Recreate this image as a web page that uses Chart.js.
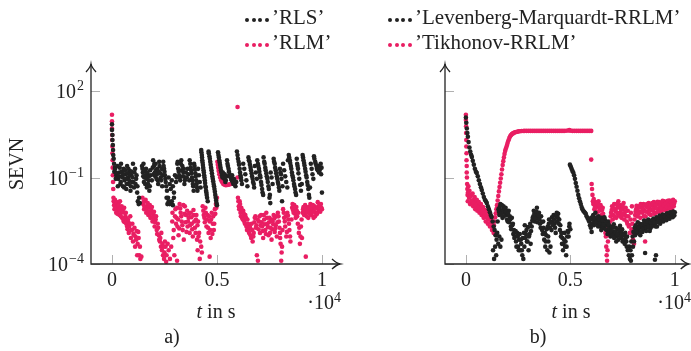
<!DOCTYPE html>
<html>
<head>
<meta charset="utf-8">
<script src="https://cdn.jsdelivr.net/npm/chart.js@4.4.1/dist/chart.umd.min.js"></script>
<style>
body { margin: 0; background: #fff; }
#wrap { position: relative; width: 691px; height: 351px; font-family: 'Liberation Serif', serif; color: #222; }
canvas { position: absolute; top: 0; }
.lbl { position: absolute; font-size: 20px; line-height: 20px; white-space: nowrap; transform: translate(-50%, -50%); }
.lblr { position: absolute; font-size: 20px; line-height: 20px; white-space: nowrap; transform: translate(-100%, -50%); }
.leg { position: absolute; font-size: 21px; line-height: 21px; white-space: nowrap; transform: translateY(-50%); }
.dot { position: absolute; width: 4px; height: 4px; border-radius: 50%; transform: translate(-50%, -50%); }
</style>
</head>
<body>
<div id="wrap">
  <canvas id="chartA" width="345" height="351" style="left:0px"></canvas>
  <canvas id="chartB" width="346" height="351" style="left:345px"></canvas>

  <div class="leg" style="left:272px; top:17px">’RLS’</div>
  <div class="leg" style="left:272px; top:42px">’RLM’</div>
  <div class="leg" style="left:415px; top:17px">’Levenberg-Marquardt-RRLM’</div>
  <div class="leg" style="left:415px; top:42px">’Tikhonov-RRLM’</div>

  <div class="lbl" style="left:216px; top:311px"><i>t</i> in s</div>
  <div class="lblr" style="left:341px; top:300px">·10<sup style="font-size:14px">4</sup></div>
  <div class="lbl" style="left:172px; top:336px">a)</div>
  <div class="lbl" style="left:571px; top:311px"><i>t</i> in s</div>
  <div class="lblr" style="left:691px; top:300px">·10<sup style="font-size:14px">4</sup></div>
  <div class="lbl" style="left:538px; top:336px">b)</div>
</div>
<script>
// tick values
const xTickValues = [0, 5000, 10000];
const yTickValues = [1e-4, 1e-1, 1e2];

// series colours
const black = '#222222';
const pink = 'rgb(233, 30, 99)';

// a) RLS  [t in s, SEVN]
const rlsData = [
  [0,7],[0,4.5],[20,3],[20,2],[40,1.35],[50,0.9],[60,0.6],[80,0.45],[100,0.3],[140,0.22],[170,0.15],
  [150,0.2],[200,0.12],[260,0.25],[300,0.09],[350,0.15],[400,0.06],[430,0.3],[480,0.11],[520,0.05],[560,0.2],
  [600,0.08],[640,0.13],[680,0.04],[720,0.25],[760,0.1],[800,0.06],[840,0.17],[880,0.035],[920,0.12],[960,0.07],
  [1000,0.3],[1050,0.045],[1100,0.2],[1150,0.09],[1200,0.03],[1230,0.015],[1270,0.012],
  [110,0.16],[180,0.09],[230,0.14],[280,0.05],[330,0.11],[370,0.22],[420,0.07],[460,0.16],[500,0.1],[540,0.13],
  [580,0.045],[620,0.18],[660,0.09],[700,0.06],[740,0.14],[780,0.2],[820,0.08],[860,0.12],[900,0.05],[940,0.16],
  [980,0.1],[1020,0.07],[1070,0.15],[1120,0.06],[1170,0.12],[1210,0.05],[1290,0.02],[1320,0.013],
  [1430,0.25],[1470,0.15],[1500,0.3],[1540,0.1],[1580,0.06],[1620,0.2],[1660,0.045],[1700,0.13],[1740,0.08],[1780,0.035],[1820,0.18],
  [1450,0.2],[1490,0.11],[1520,0.07],[1560,0.17],[1600,0.12],[1640,0.09],[1680,0.15],[1720,0.06],[1760,0.11],[1800,0.05],
  [1850,0.12],[1900,0.08],[1940,0.22],[1980,0.13],[2020,0.3],[2060,0.11],[2100,0.18],[2140,0.13],[2180,0.08],[2230,0.16],
  [2270,0.25],[2320,0.1],[2370,0.2],[2420,0.12],
  [1960,0.4],[2000,0.25],[2040,0.15],[2080,0.3],[2120,0.09],[2160,0.2],[2200,0.06],[2250,0.35],[2300,0.14],[2340,0.08],[2390,0.05],
  [2440,0.35],[2480,0.2],[2520,0.12],[2560,0.07],[2600,0.02],[2640,0.012],[2700,0.015],[2800,0.013],[2900,0.011],
  [2460,0.25],[2500,0.16],[2540,0.09],[2580,0.05],[2620,0.035],[2670,0.02],[2750,0.012],[2850,0.015],[2950,0.02],
  [2700,0.1],[2750,0.06],[2800,0.04],[2850,0.08],[2900,0.05],[2950,0.03],[3000,0.12],[3050,0.07],[3080,0.1],
  [3110,0.3],[3150,0.2],[3200,0.12],[3250,0.08],[3300,0.4],[3350,0.25],[3400,0.15],[3450,0.06],[3490,0.1],
  [3130,0.35],[3180,0.16],[3230,0.1],[3280,0.3],[3320,0.18],[3380,0.11],[3420,0.2],[3470,0.08],[3520,0.15],[3560,0.1],
  [3600,0.2],[3640,0.13],[3680,0.08],[3700,0.4],[3750,0.22],[3790,0.14],[3830,0.08],[3870,0.05],[3910,0.3],[3950,0.19],
  [3990,0.11],[4030,0.06],[4070,0.035],[4100,0.2],[4140,0.12],[4180,0.07],[4220,0.045],
  [3730,0.3],[3770,0.18],[3810,0.1],[3850,0.06],[3890,0.035],[3930,0.25],[3970,0.14],[4010,0.08],[4050,0.045],
  [4250,0.9],[4280,0.6],[4300,0.4],[4330,0.27],[4360,0.18],[4390,0.12],[4420,0.08],[4450,0.05],[4480,0.035],[4510,0.025],
  [4260,0.75],[4290,0.5],[4315,0.33],[4345,0.22],[4375,0.15],[4405,0.1],[4435,0.065],[4465,0.045],[4495,0.03],[4530,0.02],[4560,0.015],
  [4600,0.8],[4640,0.55],[4680,0.35],[4720,0.22],[4760,0.14],[4800,0.09],[4840,0.06],[4880,0.04],[4920,0.025],[4960,0.016],[5000,0.011],
  [4610,0.7],[4660,0.45],[4700,0.28],[4740,0.18],[4780,0.11],[4820,0.075],[4860,0.05],[4900,0.032],[4940,0.02],[4980,0.013],
  [5050,0.75],[5090,0.5],[5130,0.33],[5170,0.22],[5210,0.15],[5260,0.1],[5300,0.12],[5350,0.09],[5400,0.07],
  [5070,0.6],[5110,0.4],[5150,0.27],[5190,0.18],[5240,0.12],[5280,0.15],[5320,0.1],[5370,0.13],[5420,0.08],[5450,0.11],
  [5480,0.4],[5520,0.25],[5570,0.16],[5620,0.11],[5680,0.09],[5720,0.12],[5780,0.06],[5830,0.08],[5880,0.05],[5920,0.07],
  [5500,0.3],[5550,0.2],[5600,0.13],[5650,0.1],[5700,0.08],[5750,0.07],[5800,0.09],[5850,0.06],
  [5950,0.8],[5980,0.6],[6000,0.45],[6030,0.35],[6050,0.28],[6080,0.2],[6100,0.15],[6120,0.12],[6140,0.1],[6160,0.08],[6190,0.06],
  [6250,0.3],[6300,0.2],[6350,0.13],[6400,0.08],[6450,0.05],
  [6500,0.5],[6550,0.35],[6600,0.22],[6650,0.14],[6700,0.09],[6750,0.06],
  [6520,0.4],[6570,0.28],[6620,0.18],[6670,0.11],[6720,0.07],[6770,0.045],[6800,0.25],[6850,0.15],[6900,0.09],
  [6920,0.4],[6970,0.25],[7020,0.16],[7070,0.1],[7120,0.055],[7170,0.03],
  [6950,0.3],[7000,0.2],[7050,0.12],[7100,0.07],[7150,0.04],[7200,0.025],
  [7250,0.35],[7300,0.22],[7350,0.14],[7400,0.09],[7450,0.05],[7500,0.02],[7540,0.013],
  [7220,0.5],[7270,0.3],[7320,0.18],[7370,0.11],[7420,0.07],[7470,0.04],[7520,0.025],[7560,0.15],[7600,0.1],[7650,0.06],
  [7700,0.45],[7750,0.3],[7800,0.18],[7850,0.11],[7900,0.07],[7950,0.045],[8000,0.2],[8050,0.13],[8100,0.015],
  [7720,0.35],[7770,0.22],[7820,0.14],[7870,0.09],[7920,0.06],[7970,0.035],[8020,0.15],[8070,0.09],[8120,0.05],
  [8150,0.3],[8200,0.18],[8250,0.11],[8300,0.07],[8350,0.045],[8380,0.4],
  [8420,0.6],[8470,0.4],[8520,0.25],[8570,0.15],[8620,0.1],[8670,0.06],[8720,0.04],[8770,0.025],[8820,0.3],[8860,0.2],
  [8440,0.5],[8490,0.32],[8540,0.2],[8590,0.12],[8640,0.08],[8690,0.05],[8740,0.03],[8800,0.45],[8840,0.25],[8880,0.14],
  [8920,0.09],[8960,0.055],[9000,0.035],[9040,0.06],
  [9100,0.5],[9150,0.32],[9200,0.2],[9250,0.12],[9300,0.07],[9350,0.04],[9380,0.025],
  [9080,0.6],[9120,0.4],[9170,0.26],[9220,0.16],[9270,0.1],[9320,0.055],[9400,0.02],[9430,0.045],[9470,0.3],[9510,0.2],
  [9550,0.13],[9590,0.09],[9640,0.45],[9700,0.3],[9760,0.2],[9820,0.25],[9880,0.17],[9940,0.3],[9980,0.22],
  [9620,0.55],[9680,0.35],[9740,0.25],[9800,0.18],[9860,0.15],[9920,0.2],[9960,0.13],[10000,0.03]
];

// a) RLM
const rlmData = [
  [0,15],[0,9],[0,5],[10,3],[10,2],[20,1.2],[20,0.7],[30,0.4],[30,0.22],[40,0.12],[50,0.07],[60,0.04],
  [80,0.015],[120,0.008],[160,0.012],[200,0.006],[240,0.01],[280,0.007],[320,0.013],[360,0.005],[400,0.009],[440,0.006],
  [480,0.004],[520,0.008],[560,0.003],[600,0.006],[640,0.0045],[680,0.0025],
  [70,0.02],[100,0.011],[140,0.017],[180,0.009],[220,0.014],[260,0.0055],[300,0.011],[340,0.008],[380,0.015],[420,0.0045],
  [460,0.01],[500,0.0065],[540,0.0035],[580,0.009],[620,0.0028],[660,0.006],[700,0.0038],[740,0.0016],[780,0.0028],
  [820,0.002],[870,0.0045],[920,0.0015],[970,0.0025],[1020,0.0011],[1070,0.0018],[1120,0.0009],[1170,0.0014],[1220,0.0005],
  [1270,0.0008],[1330,0.0004],
  [720,0.002],[760,0.0035],[800,0.0012],[850,0.0025],[900,0.0008],[950,0.0015],[1000,0.0006],[1050,0.001],[1100,0.0004],
  [1150,0.0007],[1200,0.0002],[1250,0.0013],[1300,0.0002],[1350,0.00015],[1400,0.00018],
  [1480,0.012],[1530,0.008],[1580,0.015],[1630,0.006],[1680,0.01],[1730,0.005],[1780,0.009],[1830,0.004],[1880,0.007],
  [1930,0.003],[1980,0.005],[2030,0.002],[2080,0.0035],[2130,0.0015],[2180,0.0025],[2230,0.001],[2280,0.0006],[2330,0.0004],
  [2380,0.0003],[2430,0.0002],[2480,0.00015],[2550,0.0004],[2600,0.0002],[2300,0.0008],[2400,0.0005],[2500,0.00025],
  [1450,0.02],[1500,0.014],[1550,0.01],[1600,0.017],[1650,0.0075],[1700,0.013],[1750,0.0065],[1800,0.011],[1850,0.0055],
  [1900,0.0095],[1950,0.004],[2000,0.0065],[2050,0.0028],[2100,0.0045],[2150,0.0011],[2200,0.0018],[2250,0.0007],
  [2350,0.0012],[2450,0.0004],[2520,0.0006],[2580,0.00012],[2650,0.0005],
  [2700,0.0003],[2760,0.00015],[2820,0.0004],[3100,0.00013],
  [2870,0.003],[2920,0.0008],[2970,0.0002],[3020,0.008],[3070,0.004],[3120,0.002],[3170,0.001],[3220,0.012],[3270,0.006],
  [3320,0.003],[3370,0.0015],[3420,0.0007],[3470,0.01],[3520,0.005],
  [2880,0.006],[2940,0.0015],[3000,0.0045],[3050,0.0025],[3100,0.009],[3150,0.0035],[3200,0.0017],[3250,0.0085],
  [3300,0.0045],[3350,0.0022],[3400,0.011],[3450,0.0055],[3500,0.0028],[3550,0.0013],[3580,0.007],
  [3600,0.002],[3650,0.004],[3700,0.0012],[3750,0.006],[3800,0.0025],[3850,0.0009],[3900,0.005],[3950,0.0018],[4000,0.0035],
  [4050,0.0007],[4100,0.003],[4150,0.0012],[4080,0.0003],[4180,0.00015],[4280,0.00025],
  [3620,0.003],[3680,0.0055],[3720,0.0022],[3780,0.0042],[3820,0.0016],[3880,0.0075],[3920,0.003],[3980,0.0012],[4020,0.005],
  [4070,0.0022],[4120,0.0009],[4200,0.0006],[4250,0.0004],
  [4350,0.007],[4400,0.004],[4450,0.009],[4500,0.002],[4550,0.005],[4600,0.0012],[4650,0.003],[4700,0.0008],[4750,0.006],
  [4800,0.0025],[4850,0.0015],[4900,0.008],[4950,0.012],[5000,0.02],[4650,0.00018],
  [4320,0.01],[4370,0.005],[4420,0.0028],[4470,0.006],[4520,0.0035],[4570,0.0018],[4620,0.0045],[4680,0.0015],[4720,0.0035],
  [4780,0.0011],[4820,0.0045],[4870,0.0025],[4920,0.0055],[4970,0.009],
  [5020,0.35],[5040,0.28],[5060,0.22],[5080,0.17],[5110,0.13],[5150,0.1],[5200,0.08],[5250,0.068],[5300,0.06],[5360,0.056],
  [5420,0.054],[5480,0.055],[5540,0.056],[5600,0.058],[5660,0.06],[5720,0.062],[5780,0.065],[5830,0.07],
  [5980,28],[5980,0.1],
  [6000,0.02],[6040,0.01],[6080,0.015],[6120,0.006],[6160,0.009],[6200,0.004],[6250,0.007],[6300,0.003],[6350,0.005],
  [6400,0.002],[6450,0.0035],[6500,0.0015],[6550,0.002],[6600,0.001],[6650,0.0025],[6700,0.0006],[6750,0.0012],
  [6020,0.015],[6060,0.008],[6100,0.012],[6140,0.0045],[6180,0.0075],[6230,0.0035],[6280,0.0055],[6330,0.0025],[6380,0.004],
  [6430,0.0015],[6480,0.0025],[6530,0.0012],[6580,0.0018],[6630,0.0008],[6680,0.0015],[6730,0.0009],[6780,0.0028],
  [6900,0.0002],[6950,0.00013],
  [6800,0.004],[6850,0.0018],[7000,0.003],[7050,0.0012],[7100,0.005],[7150,0.002],[7200,0.0008],[7250,0.0035],[7300,0.0015],
  [7350,0.006],[7400,0.0025],[7450,0.001],[7500,0.004],[7550,0.0018],[7600,0.0007],[7650,0.003],[7700,0.005],[7750,0.0013],
  [7800,0.0022],[7850,0.0009],
  [6830,0.0045],[6880,0.0022],[6930,0.0035],[6980,0.0016],[7030,0.0045],[7080,0.0022],[7130,0.0028],[7180,0.0014],
  [7230,0.005],[7280,0.0024],[7330,0.0011],[7380,0.004],[7430,0.0019],[7480,0.0028],[7530,0.0012],[7580,0.0035],
  [7630,0.0016],[7680,0.0024],[7730,0.0038],[7780,0.0017],[7830,0.0045],[7880,0.0028],[7930,0.0045],[7980,0.0018],
  [7900,0.006],[7950,0.003],[8000,0.0012],[8030,0.0005],[8060,0.00013],[8100,0.0004],[8150,0.008],[8200,0.004],[8250,0.002],
  [8300,0.0009],[8350,0.006],[8400,0.0035],[8450,0.0015],[8500,0.0006],
  [8010,0.0008],[8080,0.00025],[8120,0.0015],[8180,0.006],[8230,0.003],[8280,0.0045],[8330,0.0013],[8380,0.0048],
  [8430,0.0025],[8480,0.0009],[8550,0.0035],[8580,0.009],[8620,0.0075],[8680,0.011],[8720,0.0055],[8780,0.0095],
  [8820,0.0045],[8870,0.006],[8920,0.0018],[8980,0.0009],
  [8600,0.012],[8650,0.006],[8700,0.009],[8750,0.004],[8800,0.007],[8850,0.0025],[8900,0.0012],[8950,0.0005],[9000,0.002],[9050,0.0008],
  [9100,0.008],[9150,0.005],[9200,0.011],[9250,0.006],[9300,0.009],[9350,0.004],[9400,0.007],[9450,0.012],[9500,0.005],
  [9550,0.008],[9600,0.004],[9650,0.01],[9700,0.006],[9750,0.009],[9800,0.014],[9850,0.007],[9900,0.01],[9950,0.012],[10000,0.008],
  [9030,0.0035],[9080,0.006],[9120,0.0095],[9170,0.0065],[9220,0.0085],[9270,0.0045],[9320,0.0065],[9370,0.0095],
  [9420,0.0055],[9470,0.0085],[9520,0.0065],[9570,0.011],[9620,0.0065],[9670,0.0045],[9720,0.0085],[9770,0.0055],
  [9820,0.0095],[9870,0.011],[9920,0.0065],[9970,0.009],
  [9230,0.00018]
];

// b) Levenberg-Marquardt-RRLM
const lmData = [
  [0,12],[20,8],[45,5],[70,3.5],[95,2.6],[130,1.7],[170,1.1],[210,0.8],[250,0.62],[285,0.52],[330,0.38],[380,0.28],[430,0.2],
  [480,0.16],[520,0.145],[570,0.11],[620,0.08],[670,0.06],[720,0.046],[760,0.037],[810,0.028],[860,0.021],[910,0.017],
  [960,0.015],[1000,0.013],[1050,0.01],[1100,0.008],[1150,0.0063],[1190,0.005],[1230,0.0043],[1280,0.003],[1330,0.002],
  [1375,0.0015],[1420,0.001],[1470,0.0007],
  [1300,0.0003],[1350,0.00015],[1400,0.0004],[1450,0.0002],[1500,0.0012],[1550,0.0005],[1600,0.0009],[1650,0.0004],[1700,0.0007],
  [1560,0.008],[1600,0.005],[1650,0.012],[1700,0.007],[1750,0.004],[1800,0.01],[1850,0.006],[1900,0.009],[1950,0.005],
  [2000,0.003],[2050,0.007],[2100,0.0045],[2150,0.002],[2200,0.004],[2250,0.0025],[2300,0.0015],
  [1520,0.003],[1580,0.0065],[1620,0.0095],[1680,0.0055],[1720,0.011],[1770,0.0075],[1820,0.0045],[1870,0.0085],
  [1920,0.0065],[1970,0.0035],[2020,0.0055],[2070,0.0028],[2120,0.0035],[2170,0.0016],[2220,0.0022],[2270,0.0011],
  [2350,0.0009],[2400,0.0006],[2450,0.0012],[2500,0.0004],[2550,0.0007],[2600,0.0003],[2650,0.0005],[2700,0.0002],[2750,0.00015],[2800,0.0004],
  [2320,0.0008],[2380,0.0014],[2420,0.0004],[2480,0.0009],[2530,0.0003],[2580,0.0011],[2630,0.0007],[2680,0.0003],
  [2720,0.0008],[2780,0.0012],[2820,0.0022],[2870,0.0011],[2920,0.0006],[2970,0.0019],[3020,0.0009],[3080,0.0025],
  [2850,0.0008],[2900,0.0015],[2950,0.0006],[3000,0.0003],[3050,0.0011],[3100,0.0005],
  [3150,0.002],[3200,0.004],[3250,0.007],[3300,0.003],[3350,0.005],[3400,0.009],[3450,0.004],[3500,0.006],[3550,0.0025],
  [3600,0.0045],[3650,0.0015],[3700,0.003],
  [3120,0.0014],[3180,0.0032],[3230,0.0045],[3280,0.0055],[3320,0.0038],[3380,0.0065],[3420,0.0028],[3480,0.0048],
  [3520,0.0035],[3580,0.0018],[3620,0.0028],[3680,0.0011],[3720,0.0018],[3780,0.0012],[3820,0.0006],[3870,0.0016],
  [3750,0.0007],[3800,0.0004],[3850,0.001],[3900,0.0003],[3950,0.0006],[4000,0.00025],[4050,0.0004],
  [3920,0.002],[3980,0.0035],[4100,0.0015],[4150,0.003],[4200,0.005],[4250,0.0025],[4300,0.0012],
  [3940,0.0009],[3970,0.0025],[4020,0.0018],[4070,0.0028],[4120,0.0042],[4170,0.0022],[4220,0.0035],[4270,0.0018],
  [4320,0.0045],[4370,0.003],[4420,0.0055],[4470,0.0035],[4520,0.0022],[4570,0.0012],[4620,0.0008],[4670,0.0005],
  [4720,0.0012],[4770,0.0006],[4820,0.0004],[4870,0.0014],[4920,0.0009],[4960,0.0025],
  [4350,0.006],[4400,0.004],[4450,0.0025],[4500,0.0015],[4550,0.0009],
  [4600,0.0005],[4650,0.0003],[4700,0.0007],[4750,0.0004],[4800,0.0002],[4850,0.0009],[4900,0.0013],[4950,0.002],[5000,0.0016],
  [4980,0.28],[5020,0.24],[5060,0.2],[5100,0.17],[5140,0.15],[5180,0.12],[5220,0.09],[5260,0.065],[5300,0.048],[5340,0.035],
  [5380,0.025],[5420,0.019],[5460,0.015],[5500,0.012],[5540,0.0095],[5580,0.008],[5620,0.007],[5660,0.0065],[5700,0.006],
  [5740,0.0055],[5780,0.0045],[5820,0.004],[5860,0.0035],[5900,0.003],[5940,0.0022],[5980,0.0018],[6020,0.0013],
  [6000,0.004],[6050,0.0025],[6100,0.005],[6150,0.003],[6200,0.006],[6250,0.0035],[6300,0.0025],[6350,0.0045],[6400,0.003],
  [6450,0.002],[6500,0.004],[6550,0.0028],[6600,0.0018],[6650,0.0035],[6700,0.0022],[6750,0.0015],[6800,0.003],[6850,0.002],[6900,0.0012],
  [6020,0.0035],[6080,0.0045],[6130,0.0022],[6180,0.0038],[6230,0.0028],[6280,0.0042],[6330,0.002],[6380,0.0035],
  [6430,0.0026],[6480,0.0015],[6530,0.0032],[6580,0.0024],[6630,0.0042],[6680,0.0016],[6730,0.0028],[6780,0.0011],
  [6830,0.0024],[6880,0.0016],[6930,0.0009],[6980,0.0019],[7030,0.0013],[7080,0.0024],[7130,0.0011],[7180,0.0018],
  [7230,0.0009],[7280,0.0016],[7330,0.0012],[7380,0.0021],[7430,0.0008],[7480,0.0016],[7530,0.0011],[7580,0.0007],
  [7630,0.0012],[7680,0.0006],[7720,0.0009],[7820,0.0004],[7880,0.0003],[7920,0.0006],[7980,0.0009],
  [6950,0.0014],[7000,0.001],[7050,0.0018],[7100,0.0008],[7150,0.0013],[7200,0.0006],[7250,0.0011],[7300,0.0007],
  [7350,0.0015],[7400,0.0009],[7450,0.0012],[7500,0.0006],[7550,0.001],[7600,0.0005],[7650,0.0008],[7700,0.0004],[7750,0.0003],
  [7800,0.0002],[7850,0.00015],[7900,0.00013],[7950,0.0002],[8000,0.0004],
  [8050,0.0006],[8100,0.001],[8150,0.0016],[8200,0.0012],[8250,0.002],[8300,0.0014],[8350,0.001],[8400,0.0019],[8450,0.0013],
  [8500,0.0024],[8550,0.0017],
  [8020,0.0013],[8080,0.0018],[8130,0.0022],[8180,0.0014],[8230,0.0028],[8280,0.0018],[8330,0.0025],[8380,0.0013],
  [8430,0.0024],[8480,0.0017],[8530,0.0032],[8580,0.0021],[8630,0.0014],[8680,0.0026],[8730,0.0035],[8780,0.0022],
  [8830,0.0017],[8880,0.0032],[8930,0.0024],[8980,0.0038],
  [8600,0.0025],[8650,0.0018],[8700,0.003],[8750,0.002],[8800,0.0014],[8850,0.0028],[8900,0.002],[8950,0.0033],[9000,0.0022],
  [9050,0.0025],[9100,0.0035],[9150,0.002],[9200,0.003],[9250,0.004],[9300,0.0025],[9350,0.0032],[9400,0.0045],[9450,0.003],
  [9500,0.0038],[9550,0.005],[9600,0.0033],[9650,0.0042],[9700,0.0055],[9750,0.0037],[9800,0.0046],[9850,0.006],[9900,0.0042],
  [9950,0.005],[10000,0.0062],
  [9020,0.0028],[9080,0.002],[9130,0.0042],[9180,0.0028],[9230,0.0036],[9280,0.0048],[9330,0.003],[9380,0.004],
  [9430,0.0052],[9480,0.0034],[9530,0.0044],[9580,0.0036],[9630,0.0058],[9680,0.004],[9730,0.0048],[9780,0.0062],
  [9830,0.0044],[9880,0.0052],[9930,0.0066],[9980,0.0048],
  [9050,0.00014],[8580,0.00024],[9100,0.0002]
];

// b) Tikhonov-RRLM
const tikData = [
  [0,15],[0,10],[10,6],[10,3.5],[20,2],[20,1.2],[30,0.7],[30,0.4],[40,0.25],[40,0.15],[50,0.1],[60,0.06],[70,0.04],[80,0.025],[90,0.015],
  [100,0.03],[150,0.02],[200,0.012],[250,0.025],[300,0.015],[350,0.01],[400,0.018],[450,0.008],[500,0.013],[550,0.007],
  [600,0.011],[650,0.006],[700,0.009],[750,0.005],
  [120,0.05],[170,0.035],[220,0.022],[270,0.016],[320,0.028],[370,0.013],[420,0.021],[470,0.011],[520,0.017],[570,0.009],
  [620,0.014],[670,0.008],[720,0.012],[770,0.006],[820,0.0095],[870,0.005],[920,0.0075],[970,0.0042],[1020,0.0062],
  [1070,0.0035],[1120,0.005],[1170,0.0028],[1220,0.004],[1270,0.0022],
  [800,0.007],[850,0.004],[900,0.006],[950,0.003],[1000,0.005],[1050,0.0025],[1100,0.004],[1150,0.002],[1200,0.003],
  [1250,0.0015],[1300,0.002],[1330,0.0012],
  [1340,0.0022],[1370,0.003],[1400,0.0042],[1430,0.0058],[1460,0.008],[1490,0.011],[1520,0.016],[1550,0.023],[1580,0.033],
  [1610,0.047],[1640,0.066],[1670,0.093],[1700,0.13],[1730,0.19],[1760,0.27],[1790,0.37],[1820,0.5],[1850,0.66],[1880,0.84],
  [1910,1.0],[1940,1.15],[1970,1.35],[2000,1.6],[2040,1.95],[2080,2.35],[2120,2.7],[2160,3.0],[2200,3.2],[2250,3.4],
  [2300,3.55],[2350,3.7],[2400,3.8],[2460,3.9],[2520,4.0],[2590,4.05],[2660,4.1],[2740,4.12],
  [2800,4.15],[2900,4.15],[3000,4.15],[3100,4.15],[3200,4.15],[3300,4.15],[3400,4.15],[3500,4.15],[3600,4.15],[3700,4.15],
  [3800,4.15],[3900,4.15],[4000,4.15],[4100,4.15],[4200,4.15],[4300,4.15],[4400,4.15],[4500,4.15],[4600,4.15],[4700,4.15],
  [4800,4.2],[4900,4.3],[4950,4.4],[5000,4.25],[5100,4.15],[5200,4.15],[5300,4.15],[5400,4.15],[5500,4.15],[5600,4.15],
  [5700,4.15],[5800,4.15],[5900,4.15],[6000,4.15],
  [6000,0.42],[6020,0.06],[6040,0.04],[6060,0.025],[6080,0.015],
  [6100,0.012],[6150,0.008],[6200,0.014],[6250,0.006],[6300,0.01],[6350,0.015],[6400,0.007],[6450,0.011],[6500,0.005],
  [6550,0.009],[6600,0.004],
  [6120,0.018],[6170,0.011],[6220,0.009],[6270,0.013],[6320,0.0065],[6370,0.011],[6420,0.0085],[6470,0.0045],[6520,0.0075],
  [6570,0.0055],[6620,0.0028],[6680,0.0012],[6780,0.0003],[6830,0.001],[6880,0.0022],[6930,0.0045],[6980,0.0075],
  [6650,0.002],[6700,0.0009],[6720,0.0004],[6740,0.0002],[6760,0.00013],[6800,0.0006],[6850,0.0015],[6900,0.003],
  [6950,0.006],[7000,0.01],[7050,0.005],[7100,0.012],[7150,0.007],[7200,0.004],[7250,0.009],[7300,0.015],[7350,0.006],
  [7400,0.011],[7450,0.004],[7500,0.008],[7550,0.013],[7600,0.005],[7650,0.009],[7700,0.003],[7750,0.007],[7800,0.002],
  [7850,0.0012],[7900,0.006],[7950,0.01],[8000,0.0007],[8050,0.0005],[8580,0.0006],
  [7030,0.0035],[7080,0.0085],[7130,0.0045],[7180,0.0065],[7230,0.012],[7280,0.0055],[7330,0.0095],[7380,0.0045],
  [7430,0.0075],[7480,0.0055],[7530,0.0095],[7580,0.0035],[7630,0.0065],[7680,0.0045],[7730,0.0025],[7780,0.0045],
  [7830,0.0022],[7880,0.0035],[7930,0.0016],[7970,0.0025],[8020,0.0012],[8070,0.0035],
  [8100,0.005],[8150,0.008],[8200,0.0045],[8250,0.01],[8300,0.0065],[8350,0.004],[8400,0.009],[8450,0.006],[8500,0.012],
  [8550,0.007],[8600,0.0045],[8650,0.0095],[8700,0.0065],[8750,0.013],[8800,0.008],[8850,0.005],[8900,0.011],[8950,0.007],
  [9000,0.014],[9050,0.009],[9100,0.006],[9150,0.012],[9200,0.008],[9250,0.014],[9300,0.0095],[9350,0.0065],[9400,0.012],
  [9450,0.0085],[9500,0.015],[9550,0.01],[9600,0.007],[9650,0.013],[9700,0.009],[9750,0.016],[9800,0.011],[9850,0.008],
  [9900,0.014],[9950,0.01],[10000,0.015],
  [8120,0.0065],[8170,0.0105],[8220,0.0075],[8270,0.0055],[8320,0.0095],[8370,0.012],[8420,0.0065],[8470,0.0085],
  [8520,0.0045],[8570,0.011],[8620,0.0065],[8670,0.012],[8720,0.009],[8770,0.0055],[8820,0.0105],[8870,0.0075],
  [8920,0.013],[8970,0.0085],[9020,0.0055],[9070,0.011],[9120,0.0085],[9170,0.0145],[9220,0.0065],[9270,0.0105],
  [9320,0.013],[9370,0.0085],[9420,0.0155],[9470,0.011],[9520,0.0075],[9570,0.0125],[9620,0.0095],[9670,0.0155],
  [9720,0.0115],[9770,0.0085],[9820,0.0135],[9870,0.0115],[9920,0.017],[9970,0.0125]
];

const serif = "'Liberation Serif', serif";

// Axis lines with arrows, inner tick marks and 10^k labels (pgfplots look)
const axesPlugin = {
  id: 'axesPlugin',
  beforeDatasetsDraw(chart) {
    const { ctx, chartArea: a, scales: { x, y } } = chart;
    ctx.save();
    ctx.strokeStyle = '#b0b0b0';
    ctx.lineWidth = 1;
    x.ticks.forEach(t => {
      const px = Math.round(x.getPixelForValue(t.value)) + 0.5;
      ctx.beginPath(); ctx.moveTo(px, a.bottom); ctx.lineTo(px, a.bottom - 9); ctx.stroke();
    });
    y.ticks.forEach(t => {
      const py = Math.round(y.getPixelForValue(t.value)) + 0.5;
      ctx.beginPath(); ctx.moveTo(a.left, py); ctx.lineTo(a.left + 9, py); ctx.stroke();
    });
    ctx.restore();
  },
  afterDraw(chart, args, opts) {
    const { ctx, chartArea: a, scales: { y } } = chart;
    ctx.save();
    ctx.strokeStyle = '#222';
    ctx.lineWidth = 1.3;
    ctx.beginPath();
    ctx.moveTo(a.left, a.top); ctx.lineTo(a.left, a.bottom); ctx.lineTo(a.right, a.bottom);
    ctx.stroke();
    // arrow heads
    ctx.beginPath();
    ctx.moveTo(a.left - 5, a.top + 8); ctx.quadraticCurveTo(a.left - 0.5, a.top + 3, a.left, a.top);
    ctx.quadraticCurveTo(a.left + 0.5, a.top + 3, a.left + 5, a.top + 8);
    ctx.moveTo(a.right - 8, a.bottom - 5); ctx.quadraticCurveTo(a.right - 3, a.bottom - 0.5, a.right, a.bottom);
    ctx.quadraticCurveTo(a.right - 3, a.bottom + 0.5, a.right - 8, a.bottom + 5);
    ctx.stroke();

    if (opts.yLabels) {
      ctx.fillStyle = '#222';
      ctx.textBaseline = 'alphabetic';
      y.ticks.forEach(t => {
        const py = y.getPixelForValue(t.value);
        const exp = String(Math.round(Math.log10(t.value))).replace('-', '\u2212');
        ctx.font = '20px ' + serif;
        const w1 = ctx.measureText('10').width;
        ctx.font = '14px ' + serif;
        const w2 = ctx.measureText(exp).width;
        const x0 = a.left - 7 - w1 - w2 - 1;
        ctx.font = '20px ' + serif;
        ctx.fillText('10', x0, py + 7);
        ctx.font = '14px ' + serif;
        ctx.fillText(exp, x0 + w1 + 1, py - 1);
      });
    }
    ctx.restore();
  }
};

function makeChart(id, sets, xMax, yWidth, withYTitle) {
  const ctx = document.getElementById(id).getContext('2d');
  return new Chart(ctx, {
    type: 'scatter',
    data: {
      datasets: sets.map(s => ({
        label: s.label,
        data: s.data,
        backgroundColor: s.color,
        borderWidth: 0,
        pointRadius: 2.3,
        pointHoverRadius: 2.3
      }))
    },
    options: {
      responsive: false,
      animation: false,
      devicePixelRatio: 1,
      layout: { padding: { top: 64, right: id === 'chartA' ? 5 : 1, left: 0, bottom: 0 } },
      plugins: {
        legend: { display: false },
        tooltip: { enabled: false },
        axesPlugin: { yLabels: withYTitle }
      },
      scales: {
        x: {
          type: 'linear',
          min: -1000,
          max: xMax,
          afterBuildTicks: s => { s.ticks = xTickValues.map(v => ({ value: v })); },
          afterFit: s => { s.height = 87; },
          grid: { display: false, drawTicks: false },
          border: { display: false },
          ticks: {
            padding: 5,
            maxRotation: 0,
            autoSkip: false,
            color: '#222',
            font: { family: serif, size: 20 },
            callback: v => String(v / 10000)
          }
        },
        y: {
          type: 'logarithmic',
          min: 1e-4,
          max: 870,
          afterBuildTicks: s => { s.ticks = yTickValues.map(v => ({ value: v })); },
          afterFit: s => { s.width = yWidth; },
          grid: { display: false, drawTicks: false },
          border: { display: false },
          ticks: { display: false },
          title: {
            display: withYTitle,
            text: 'SEVN',
            color: '#222',
            font: { family: serif, size: 20 },
            padding: { top: 6, bottom: 0 }
          }
        }
      }
    },
    plugins: [axesPlugin]
  });
}

makeChart('chartA', [
  { label: "'RLS'", data: rlsData, color: black },
  { label: "'RLM'", data: rlmData, color: pink }
], 10860, 91, true);

makeChart('chartB', [
  { label: "'Levenberg-Marquardt-RRLM'", data: lmData, color: black },
  { label: "'Tikhonov-RRLM'", data: tikData, color: pink }
], 10667, 100, false);

// dotted legend markers
const legendMarks = [
  { x: 245, y: 17, color: black },
  { x: 245, y: 42, color: pink },
  { x: 388, y: 17, color: black },
  { x: 388, y: 42, color: pink }
];
const wrap = document.getElementById('wrap');
legendMarks.forEach(m => {
  for (let i = 0; i < 4; i++) {
    const d = document.createElement('div');
    d.className = 'dot';
    d.style.left = (m.x + 2 + i * 6.5) + 'px';
    d.style.top = (m.y + 3) + 'px';
    d.style.background = m.color;
    wrap.appendChild(d);
  }
});
</script>
</body>
</html>
